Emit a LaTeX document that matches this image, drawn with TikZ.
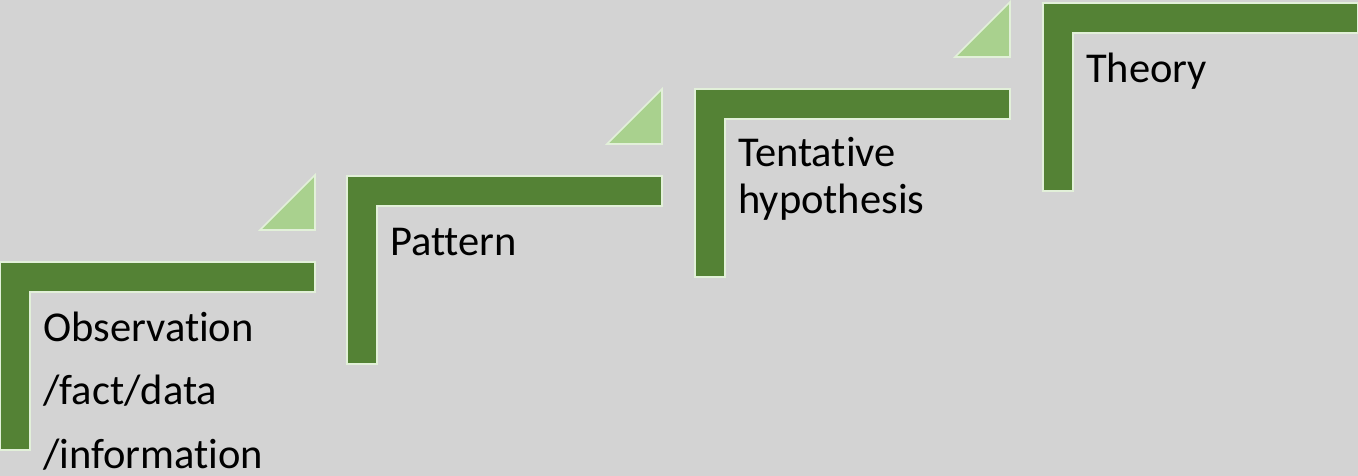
\documentclass[tikz,border=0pt]{standalone}
\usepackage{fontspec}
\setmainfont{Carlito}[Ligatures={NoCommon}]
\definecolor{stepgreen}{HTML}{548235}
\definecolor{steplight}{HTML}{A9D18E}
\definecolor{stepedge}{HTML}{E2F0D9}
\definecolor{canvas}{HTML}{D3D3D3}
\begin{document}
\begin{tikzpicture}[x=1pt,y=-1pt,
  lbar/.style={fill=stepgreen,draw=stepedge,line width=1.6pt,line join=miter},
  tri/.style={fill=steplight,draw=stepedge,line width=1.6pt,line join=miter},
  label/.style={anchor=base west,inner sep=0pt,font=\fontsize{42.5}{50}\selectfont,text=black}]
% background and page size
\fill[canvas] (0,0) rectangle (1358,476);
\useasboundingbox (0,0) rectangle (1358,476);
% each step: an L-shaped bracket
\foreach \x/\y in {0/262, 347/176, 695/89, 1043/3}{
  \draw[lbar] (\x,\y) -- ++(315,0) -- ++(0,30) -- ++(-285,0) -- ++(0,158) -- ++(-30,0) -- cycle;
}
% small triangles above the right end of the lower three steps
\foreach \x/\y in {0/262, 347/176, 695/89}{
  \draw[tri] (\x+315,\y-87) -- (\x+315,\y-32) -- (\x+260,\y-32) -- cycle;
}
% labels
\node[label] (obs1) at (43,341) {Observation};
\node[label] (obs2) at (43,404) {/fact/data};
\node[label] (obs3) at (43,468) {/information};
\node[label] (pat) at (390,255) {Pattern};
\node[label] (ten1) at (738,167) {Tentative};
\node[label] (ten2) at (738,213) {hypothesis};
\node[label] (the) at (1086,83) {Theory};
\end{tikzpicture}
\end{document}
